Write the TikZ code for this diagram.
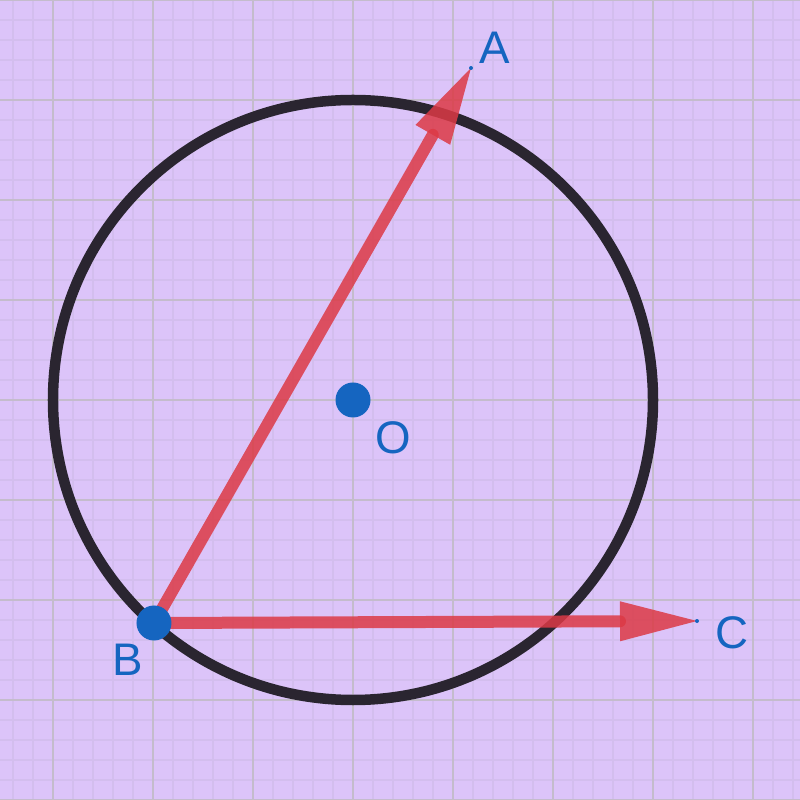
\documentclass[tikz,border=0pt]{standalone}
\usepackage{fontspec}
\setmainfont{Liberation Sans}
\usetikzlibrary{calc}
\definecolor{bgviolet}{RGB}{220,196,249}
\definecolor{minorgrid}{RGB}{211,190,238}
\definecolor{majorgrid}{RGB}{196,188,204}
\definecolor{ptblue}{RGB}{21,101,192}
\definecolor{vecred}{RGB}{220,58,70}
\definecolor{circdark}{RGB}{42,37,48}
\tikzset{
  ptdot/.style={circle,fill=ptblue,inner sep=0pt,minimum size=0.35cm},
  tinydot/.style={circle,fill=ptblue,inner sep=0pt,minimum size=0.04cm},
  ptlabel/.style={text=ptblue,font=\fontsize{13}{13}\selectfont,inner sep=0pt},
  vecshaft/.style={draw=vecred,line width=0.12cm,opacity=0.85,line cap=round,shorten >=0.77cm},
  vechead/.style={fill=vecred,fill opacity=0.85},
  circ/.style={draw=circdark,line width=0.105cm}
}
\begin{document}
\begin{tikzpicture}
\useasboundingbox (-3.53,-4) rectangle (4.47,4);
\fill[bgviolet] (-3.53,-4) rectangle (4.47,4);
\draw[minorgrid,line width=0.6pt] (-3.53,-4) grid[step=0.2] (4.47,4);
\draw[majorgrid,line width=0.8pt] (-3.53,-4) grid[step=1] (4.47,4);
\draw[circ] (0,0) circle[radius=3];
\coordinate (A) at (1.18,3.32);
\coordinate (C) at (3.44,-2.21);
\coordinate (Bp) at (-1.99,-2.23);
\draw[vecshaft] (Bp) -- (A);
\draw[vecshaft] (Bp) -- (C);
\coordinate (Ab) at ($(A)!0.77cm!(Bp)$);
\coordinate (Cb) at ($(C)!0.77cm!(Bp)$);
\fill[vechead] (A) -- ($(Ab)!0.2cm!90:(A)$) -- ($(Ab)!0.2cm!-90:(A)$) -- cycle;
\fill[vechead] (C) -- ($(Cb)!0.2cm!90:(C)$) -- ($(Cb)!0.2cm!-90:(C)$) -- cycle;
\node[tinydot] (Ad) at (A) {};
\node[tinydot] (Cd) at (C) {};
\node[ptdot] (O) at (0,0) {};
\node[ptdot] (B) at (Bp) {};
\node[ptlabel] (Alab) at (1.42,3.52) {A};
\node[ptlabel] (Blab) at (-2.25,-2.6) {B};
\node[ptlabel] (Clab) at (3.79,-2.33) {C};
\node[ptlabel] (Olab) at (0.4,-0.38) {O};
\end{tikzpicture}
\end{document}
